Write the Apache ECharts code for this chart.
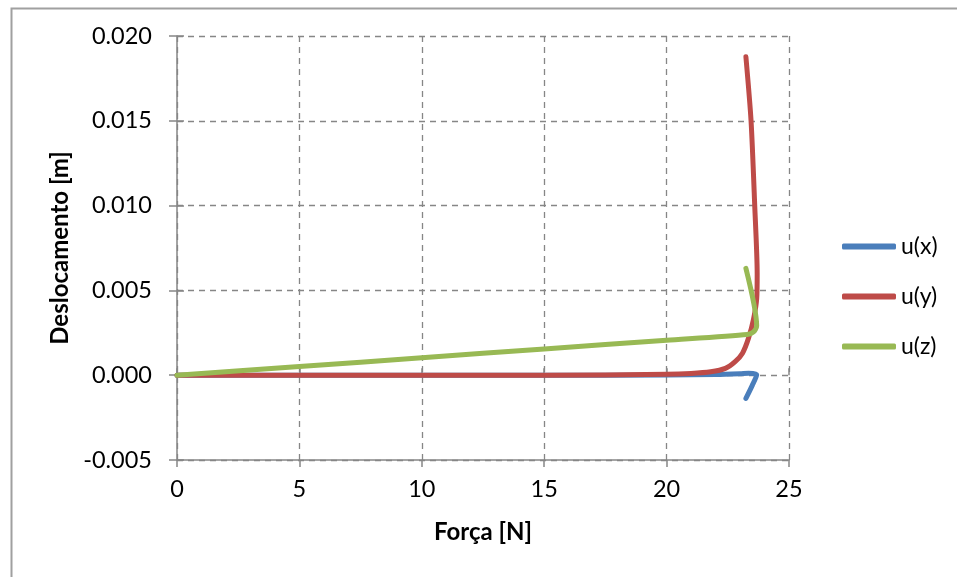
<!DOCTYPE html>
<html>
<head>
<meta charset="utf-8">
<script src="https://cdn.jsdelivr.net/npm/echarts@6/dist/echarts.min.js"></script>
<style>
  html, body { margin: 0; padding: 0; background: #fff; }
  #chart { width: 957px; height: 577px; }
</style>
</head>
<body>
<div id="chart"></div>
<script>
// Force (N) vs displacement (m) for the three displacement components
const seriesNames = ['u(x)', 'u(y)', 'u(z)'];

const forceUx = [0, 5, 10, 15, 20, 22, 23, 23.35, 23.68, 23.5, 23.24];
const dispUx  = [0, 0, 0, 0, 0.00001, 0.00004, 0.00009, 0.00012, 0.00002, -0.0006, -0.00137];

const forceUy = [0, 5, 10, 15, 20, 21, 21.8, 22.4, 22.8, 23.1, 23.35, 23.55, 23.68, 23.7, 23.6, 23.45, 23.24];
const dispUy  = [0, 0, 0, 0, 0.00005, 0.0001, 0.0002, 0.0004, 0.0008, 0.0013, 0.0022, 0.0033, 0.0045, 0.006, 0.0100, 0.0150, 0.01877];

const forceUz = [0, 5, 10, 15, 20, 23.3, 23.55, 23.68, 23.24];
const dispUz  = [0, 0.00051, 0.00103, 0.00155, 0.00206, 0.0024, 0.00255, 0.0029, 0.0063];

const xTicks = [0, 5, 10, 15, 20, 25];
const yTicks = [-0.005, 0.000, 0.005, 0.010, 0.015, 0.020];

const colors = ['#4a7ebb', '#be4b48', '#98b954'];
const font = 'Lato, "Open Sans", sans-serif';

const pairs = (xs, ys) => xs.map((x, i) => [x, ys[i]]);
const seriesData = [pairs(forceUx, dispUx), pairs(forceUy, dispUy), pairs(forceUz, dispUz)];

const xMin = xTicks[0], xMax = xTicks[xTicks.length - 1], xStep = xTicks[1] - xTicks[0];
const yMin = yTicks[0], yMax = yTicks[yTicks.length - 1], yStep = 0.005;

const gridLine = { show: true, lineStyle: { color: '#868686', type: [6, 5], width: 1.3 } };
const axisLine = { show: true, onZero: false, lineStyle: { color: '#868686', width: 1.5 } };
const tickStyle = { color: '#868686', width: 1.5 };

const chart = echarts.init(document.getElementById('chart'), null, { renderer: 'canvas' });
chart.setOption({
  backgroundColor: '#ffffff',
  animation: false,
  graphic: [{
    type: 'rect', left: 9, top: 6,
    shape: { width: 1000, height: 620 },
    style: { fill: 'none', stroke: '#a0a0a0', lineWidth: 2 },
    silent: true, z: -10
  }],
  grid: { left: 177, right: 168, top: 36, bottom: 117, containLabel: false },
  legend: {
    orient: 'vertical', left: 842, top: 235, padding: 0,
    itemWidth: 54, itemHeight: 6, itemGap: 27,
    icon: 'roundRect',
    textStyle: { fontFamily: font, fontSize: 23, color: '#000' },
    data: seriesNames
  },
  xAxis: [{
    type: 'value', min: xMin, max: xMax, interval: xStep,
    name: 'Força [N]', nameLocation: 'middle', nameGap: 60,
    nameTextStyle: { fontFamily: font, fontSize: 24, fontWeight: 'bold', color: '#000' },
    axisLine: axisLine,
    axisTick: { show: true, length: 7, lineStyle: tickStyle },
    axisLabel: { fontFamily: font, fontSize: 23.5, color: '#000', margin: 17 },
    splitLine: gridLine
  }, {
    type: 'value', min: xMin, max: xMax, interval: xStep, position: 'bottom',
    axisLine: { show: false }, axisLabel: { show: false }, splitLine: { show: false },
    axisTick: { show: true, inside: true, length: 7, lineStyle: tickStyle }
  }],
  yAxis: [{
    type: 'value', min: yMin, max: yMax, interval: yStep,
    name: 'Deslocamento [m]', nameLocation: 'middle', nameGap: 102, nameRotate: 90,
    nameTextStyle: { fontFamily: font, fontSize: 24, fontWeight: 'bold', color: '#000' },
    axisLine: axisLine,
    axisTick: { show: true, length: 8, lineStyle: tickStyle },
    axisLabel: { fontFamily: font, fontSize: 23.5, color: '#000', margin: 25,
      formatter: v => v.toFixed(3) },
    splitLine: gridLine
  }, {
    type: 'value', min: yMin, max: yMax, interval: yStep, position: 'left',
    axisLine: { show: false }, axisLabel: { show: false }, splitLine: { show: false },
    axisTick: { show: true, inside: true, length: 7, lineStyle: tickStyle }
  }],
  series: seriesNames.map((name, i) => ({
    name: name,
    type: 'line',
    data: seriesData[i],
    showSymbol: false,
    symbol: 'none',
    smooth: 0.25,
    color: colors[i],
    lineStyle: { color: colors[i], width: 5, cap: 'round', join: 'round' },
    z: 2 + i
  }))
});
</script>
</body>
</html>
